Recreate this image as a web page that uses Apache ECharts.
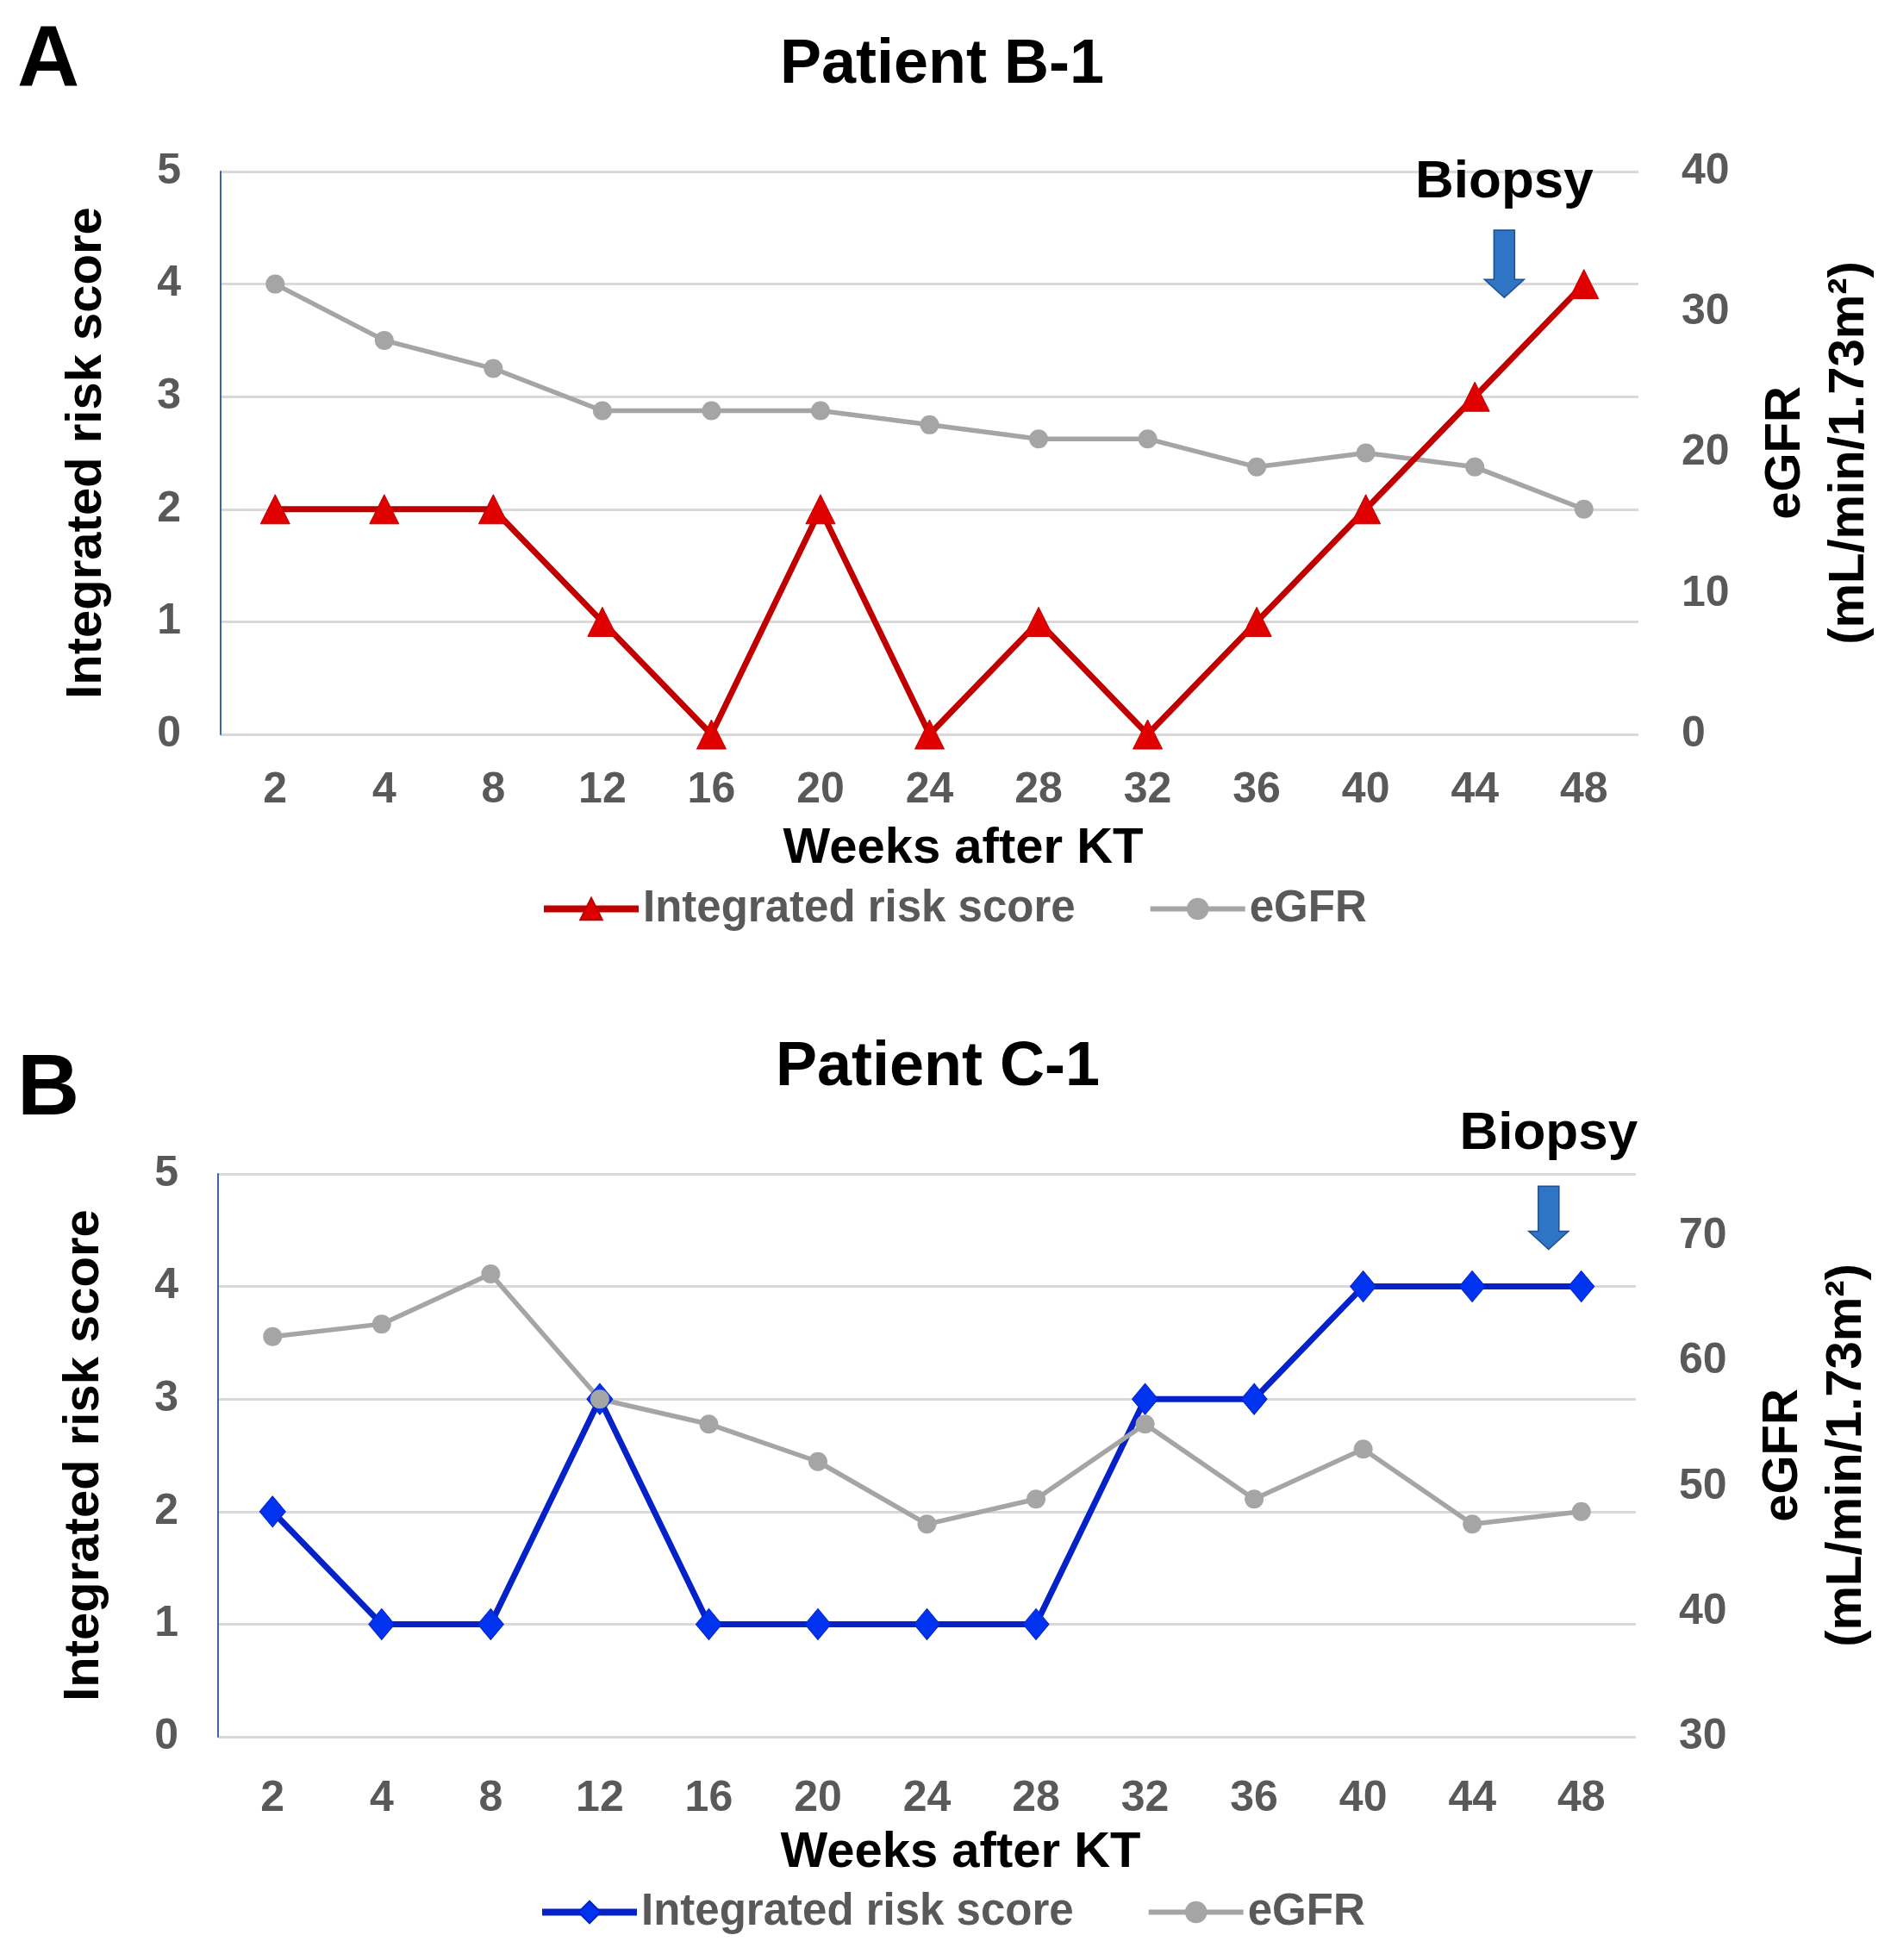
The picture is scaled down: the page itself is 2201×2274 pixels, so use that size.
<!DOCTYPE html>
<html>
<head>
<meta charset="utf-8">
<script src="https://cdn.jsdelivr.net/npm/echarts@6/dist/echarts.min.js"></script>
<style>
html,body{margin:0;padding:0;background:#fff;}
.p{width:2201px;height:1137px;}
</style>
</head>
<body>
<div id="pa" class="p"></div>
<div id="pb" class="p"></div>
<script>
// ---------- data ----------
const weeks = ['2','4','8','12','16','20','24','28','32','36','40','44','48'];

const riskB1 = [2, 2, 2, 1, 0, 2, 0, 1, 0, 1, 2, 3, 4];
const egfrB1 = [32, 28, 26, 23, 23, 23, 22, 21, 21, 19, 20, 19, 16];

const riskC1 = [2, 1, 1, 3, 1, 1, 1, 1, 3, 3, 4, 4, 4];
const egfrC1 = [62, 63, 67, 57, 55, 52, 47, 49, 55, 49, 53, 47, 48];

const riskAxis = [0, 5, 1];        // min, max, interval
const egfrAxisB1 = [0, 40, 10];
const egfrAxisC1 = [30, 75, 10];

const seriesNames = ['Integrated risk score', 'eGFR'];
// biopsy marker positions (category position, left-axis value for text / arrow top / arrow tip)
const biopsyB1 = [11.27, 4.9, 4.48, 3.88];
const biopsyC1 = [11.7, 5.35, 4.89, 4.33];

// ---------- styling ----------
const FONT = '"Liberation Sans", Arial, sans-serif';
const GRAY_TXT = '#595959';

function buildPanel(el, cfg) {
  const chart = echarts.init(el, null, {renderer: 'canvas'});
  const riskSeries = {
    name: seriesNames[0], type: 'line', data: cfg.risk, yAxisIndex: 0,
    symbol: cfg.symbol, symbolSize: cfg.symbolSize,
    lineStyle: {color: cfg.lineColor, width: 7},
    itemStyle: {color: cfg.markColor, borderColor: cfg.lineColor, borderWidth: 1},
    emphasis: {disabled: true}, animation: false
  };
  const egfrSeries = {
    name: seriesNames[1], type: 'line', data: cfg.egfr, yAxisIndex: 1,
    symbol: 'circle', symbolSize: 22,
    lineStyle: {color: '#A5A5A5', width: 5.5},
    itemStyle: {color: '#A5A5A5'},
    emphasis: {disabled: true}, animation: false
  };
  const series = cfg.egfrOnTop ? [riskSeries, egfrSeries] : [egfrSeries, riskSeries];

  chart.setOption({
    animation: false,
    backgroundColor: '#fff',
    textStyle: {fontFamily: FONT},
    grid: {left: cfg.grid.left, right: cfg.grid.right, top: cfg.grid.top, height: cfg.grid.height},
    legend: {
      data: [
        {name: seriesNames[0], lineStyle: {width: 8}},
        {name: seriesNames[1], lineStyle: {width: 6}}
      ],
      left: cfg.legend.left, top: cfg.legend.top,
      itemWidth: 110, itemHeight: 32, itemGap: 84,
      textStyle: {fontFamily: FONT, fontSize: 51, fontWeight: 'bold', color: GRAY_TXT}
    },
    xAxis: {
      type: 'category', data: weeks, boundaryGap: true,
      axisLine: {show: false}, axisTick: {show: false},
      axisLabel: {fontFamily: FONT, fontSize: 50, fontWeight: 'bold', color: GRAY_TXT, margin: cfg.xMargin},
      name: 'Weeks after KT', nameLocation: 'middle', nameGap: cfg.xNameGap,
      nameTextStyle: {fontFamily: FONT, fontSize: 58, fontWeight: 'bold', color: '#000', padding: [0, 0, 0, 78]}
    },
    yAxis: [
      {
        type: 'value', min: riskAxis[0], max: riskAxis[1], interval: riskAxis[2],
        axisLine: {show: true, lineStyle: {color: '#3F62A8', width: 2}},
        axisTick: {show: false},
        splitLine: {show: true, lineStyle: {color: '#D9D9D9', width: 3}},
        axisLabel: {fontFamily: FONT, fontSize: 50, fontWeight: 'bold', color: GRAY_TXT, margin: 46},
        name: 'Integrated risk score', nameLocation: 'middle', nameGap: 126, nameRotate: 90,
        nameTextStyle: {fontFamily: FONT, fontSize: 58, fontWeight: 'bold', color: '#000'}
      },
      {
        type: 'value', position: 'right',
        min: cfg.egfrAxis[0], max: cfg.egfrAxis[1], interval: cfg.egfrAxis[2],
        axisLine: {show: false}, axisTick: {show: false}, splitLine: {show: false},
        axisLabel: {fontFamily: FONT, fontSize: 50, fontWeight: 'bold', color: GRAY_TXT, margin: 50,
                    showMaxLabel: cfg.egfrAxis[1] % cfg.egfrAxis[2] === 0},
        name: 'eGFR\n(mL/min/1.73m²)', nameLocation: 'middle', nameGap: 134, nameRotate: 90,
        nameTextStyle: {fontFamily: FONT, fontSize: 58, fontWeight: 'bold', color: '#000', lineHeight: 74}
      }
    ],
    series: series
  });

  // annotations positioned through the axes (fractional category position interpolated)
  const b = cfg.biopsy;
  const i0 = Math.floor(b[0]), i1 = Math.ceil(b[0]), f = b[0] - i0;
  const x0 = chart.convertToPixel({xAxisIndex: 0}, i0);
  const x1 = chart.convertToPixel({xAxisIndex: 0}, i1);
  const ax = x0 + f * (x1 - x0);
  const yText = chart.convertToPixel({yAxisIndex: 0}, b[1]);
  const yTop = chart.convertToPixel({yAxisIndex: 0}, b[2]);
  const yTip = chart.convertToPixel({yAxisIndex: 0}, b[3]);
  const headLen = 21, shaftHalf = 12, headHalf = 23;
  const yHead = yTip - headLen;

  chart.setOption({
    graphic: [
      {type: 'text', x: cfg.letter.x, y: cfg.letter.y,
       style: {text: cfg.letter.text, font: 'bold 100px ' + FONT, fill: '#000', align: 'center', verticalAlign: 'middle'}},
      {type: 'text', x: cfg.title.x, y: cfg.title.y,
       style: {text: cfg.title.text, font: 'bold 72px ' + FONT, fill: '#000', align: 'center', verticalAlign: 'middle'}},
      {type: 'text', x: ax, y: yText, z: 10,
       style: {text: 'Biopsy', font: 'bold 62px ' + FONT, fill: '#000', align: 'center', verticalAlign: 'middle'}},
      {type: 'polygon', z: 10,
       shape: {points: [[ax - shaftHalf, yTop], [ax + shaftHalf, yTop], [ax + shaftHalf, yHead],
                        [ax + headHalf, yHead], [ax, yTip], [ax - headHalf, yHead], [ax - shaftHalf, yHead]]},
       style: {fill: '#2E75C6', stroke: '#1F4E8C', lineWidth: 1.5}}
    ]
  });
  return chart;
}

buildPanel(document.getElementById('pa'), {
  risk: riskB1, egfr: egfrB1, egfrAxis: egfrAxisB1, biopsy: biopsyB1,
  symbol: 'triangle', symbolSize: 34, lineColor: '#C00000', markColor: '#E00000', egfrOnTop: false,
  grid: {left: 256, right: 300, top: 199, height: 653},
  xMargin: 40, xNameGap: 104,
  legend: {left: 622, top: 1024},
  letter: {text: 'A', x: 56, y: 72},
  title: {text: 'Patient B-1', x: 1093, y: 76}
});

buildPanel(document.getElementById('pb'), {
  risk: riskC1, egfr: egfrC1, egfrAxis: egfrAxisC1, biopsy: biopsyC1,
  symbol: 'diamond', symbolSize: [30, 36], lineColor: '#0522C8', markColor: '#0033F0', egfrOnTop: true,
  grid: {left: 253, right: 303, top: 225, height: 653},
  xMargin: 47, xNameGap: 106,
  legend: {left: 620, top: 1051},
  letter: {text: 'B', x: 56, y: 128},
  title: {text: 'Patient C-1', x: 1088, y: 102}
});
</script>
</body>
</html>
